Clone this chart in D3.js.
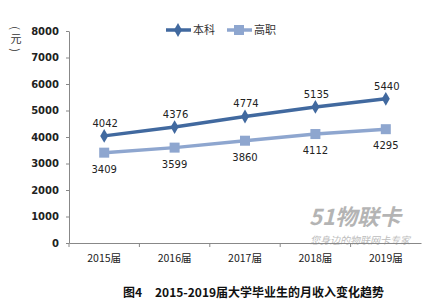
<!DOCTYPE html>
<html>
<head>
<meta charset="utf-8">
<script src="https://cdn.jsdelivr.net/npm/d3@7"></script>
<style>
body { margin: 0; background: #fff; }
text { font-family: "Noto Sans CJK SC", "DejaVu Sans", sans-serif; }
</style>
</head>
<body>
<svg id="chart" width="440" height="303"></svg>
<script>
var categories = ["2015届", "2016届", "2017届", "2018届", "2019届"]
var benke = [4042, 4376, 4774, 5135, 5440]
var gaozhi = [3409, 3599, 3860, 4112, 4295]
var yTicks = [0, 1000, 2000, 3000, 4000, 5000, 6000, 7000, 8000]
var seriesNames = ["本科", "高职"]

var svg = d3.select("#chart")
var mLeft = 69, mRight = 421, mTop = 31, mBottom = 243

var x = d3.scaleBand().domain(categories).range([mLeft, mRight])
var y = d3.scaleLinear().domain([0, 8000]).range([mBottom, mTop])

// axes
var yAxis = svg.append("g").attr("transform", "translate(" + mLeft + ",0)")
    .call(d3.axisLeft(y).tickValues(yTicks).tickFormat(d3.format("d")).tickSize(3).tickSizeOuter(0))
yAxis.select(".domain").attr("stroke", "#888")
yAxis.selectAll(".tick line").attr("stroke", "#888")
yAxis.selectAll("text").attr("font-size", 10).attr("fill", "#222").attr("x", -10)
    .style("font-family", "'DejaVu Sans', sans-serif").attr("font-weight", "bold")

var xAxis = svg.append("g").attr("transform", "translate(0," + mBottom + ")")
    .call(d3.axisBottom(x).tickSize(0).tickSizeOuter(0))
xAxis.select(".domain").attr("stroke", "#888")
xAxis.selectAll("text").attr("font-size", 10.5).attr("fill", "#222").attr("dy", 16)
// band boundary ticks
svg.append("g").selectAll("line").data(categories).enter().append("line")
    .attr("x1", function(d){ return x(d) }).attr("x2", function(d){ return x(d) })
    .attr("y1", mBottom).attr("y2", mBottom + 4).attr("stroke", "#888")

var cx = function(d, i){ return x(categories[i]) + x.bandwidth() / 2 }
var line = d3.line().x(function(d, i){ return cx(d, i) }).y(function(d){ return y(d) })

var colBenke = "#41699f", colGaozhi = "#8ea6cf"

svg.append("path").datum(gaozhi).attr("d", line).attr("fill", "none")
    .attr("stroke", colGaozhi).attr("stroke-width", 3.5)
svg.append("g").selectAll("rect").data(gaozhi).enter().append("rect")
    .attr("x", function(d, i){ return cx(d, i) - 5 }).attr("y", function(d){ return y(d) - 5 })
    .attr("width", 10).attr("height", 10).attr("fill", colGaozhi)

svg.append("path").datum(benke).attr("d", line).attr("fill", "none")
    .attr("stroke", colBenke).attr("stroke-width", 3.5)
svg.append("g").selectAll("path.dia").data(benke).enter().append("path")
    .attr("d", d3.symbol().type(d3.symbolDiamond).size(55))
    .attr("transform", function(d, i){ return "translate(" + cx(d, i) + "," + y(d) + ")" })
    .attr("fill", colBenke)

// data labels
svg.append("g").selectAll("text").data(benke).enter().append("text")
    .attr("x", function(d, i){ return cx(d, i) + 1 }).attr("y", function(d){ return y(d) - 9 })
    .attr("text-anchor", "middle").attr("font-size", 10).attr("fill", "#222")
    .style("font-family", "'DejaVu Sans', sans-serif").text(function(d){ return d })
svg.append("g").selectAll("text").data(gaozhi).enter().append("text")
    .attr("x", function(d, i){ return cx(d, i) }).attr("y", function(d){ return y(d) + 20 })
    .attr("text-anchor", "middle").attr("font-size", 10).attr("fill", "#222")
    .style("font-family", "'DejaVu Sans', sans-serif").text(function(d){ return d })

// legend
var lg = svg.append("g")
lg.append("line").attr("x1", 166).attr("x2", 191).attr("y1", 30).attr("y2", 30)
    .attr("stroke", colBenke).attr("stroke-width", 3.5)
lg.append("path").attr("d", d3.symbol().type(d3.symbolDiamond).size(55))
    .attr("transform", "translate(178,30)").attr("fill", colBenke)
lg.append("text").attr("x", 193).attr("y", 34).attr("font-size", 11).attr("fill", "#333").text(seriesNames[0])
lg.append("line").attr("x1", 227).attr("x2", 252).attr("y1", 30).attr("y2", 30)
    .attr("stroke", colGaozhi).attr("stroke-width", 3.5)
lg.append("rect").attr("x", 234).attr("y", 25).attr("width", 10).attr("height", 10).attr("fill", colGaozhi)
lg.append("text").attr("x", 254).attr("y", 34).attr("font-size", 11).attr("fill", "#333").text(seriesNames[1])

// y unit label: rotated parentheses around an upright 元
var unit = svg.append("g").attr("font-size", 11).attr("fill", "#333")
unit.append("text").attr("transform", "translate(16,28) rotate(90)").attr("text-anchor", "middle")
    .attr("dominant-baseline", "central").text("(")
unit.append("text").attr("x", 16).attr("y", 43).attr("text-anchor", "middle").text("元")
unit.append("text").attr("transform", "translate(16,50) rotate(90)").attr("text-anchor", "middle")
    .attr("dominant-baseline", "central").text(")")

// watermark
var wm = svg.append("g").attr("opacity", 0.55)
wm.append("text").attr("x", 355).attr("y", 225).attr("text-anchor", "middle")
    .attr("font-size", 22).attr("font-weight", "bold").attr("font-style", "italic")
    .attr("fill", "#777").text("51物联卡")
wm.append("text").attr("x", 360).attr("y", 244).attr("text-anchor", "middle")
    .attr("font-size", 10).attr("font-style", "italic").attr("fill", "#888").text("您身边的物联网卡专家")

// caption
var cap = svg.append("g").attr("font-size", 12).attr("font-weight", "bold").attr("fill", "#111")
cap.append("text").attr("x", 123).attr("y", 297).text("图4")
cap.append("text").attr("x", 155).attr("y", 297).text("2015-2019届大学毕业生的月收入变化趋势")
</script>
</body>
</html>
